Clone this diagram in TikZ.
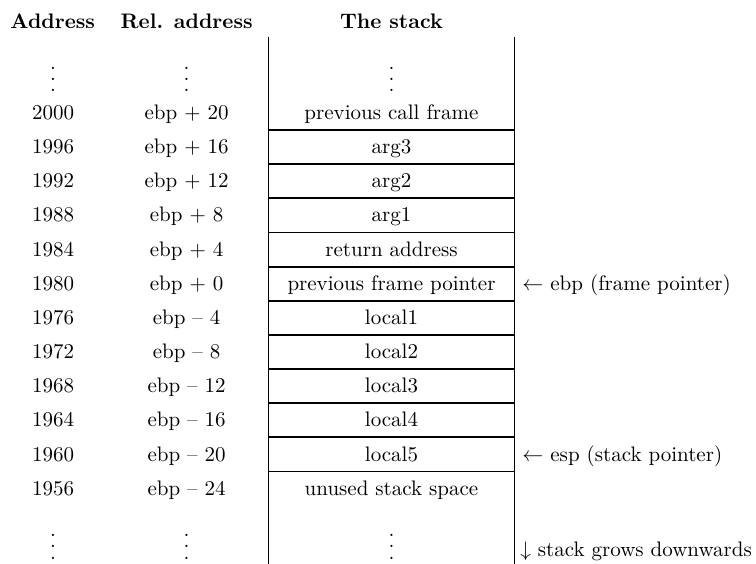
\documentclass[tikz,border=0pt]{standalone}
\newcommand{\myvdots}{\vbox{\baselineskip5.4pt\lineskiplimit0pt\hbox{.}\hbox{.}\hbox{.}}}
\begin{document}
\begin{tikzpicture}[x=0.47619pt,y=-0.47619pt,
  txt/.style={anchor=base,inner sep=0pt,font=\normalsize},
  hdr/.style={anchor=base,inner sep=0pt,font=\bfseries},
  note/.style={anchor=base west,inner sep=0pt},
  rule/.style={line width=0.9pt}]
\useasboundingbox (0,0) rectangle (756,564);
% headers
\node[hdr] (hA) at (52.7,28.5) {Address};
\node[hdr] (hR) at (186.6,28.5) {Rel. address};
\node[hdr] (hS) at (391.5,28.5) {The stack};
% top dots
\node[txt] (dA1) at (53,92) {\myvdots};
\node[txt] (dR1) at (186.6,92) {\myvdots};
\node[txt] (dS1) at (391.5,92) {\myvdots};
% rows
\foreach \k/\a/\r/\c in {
  0/2000/{ebp + 20}/{previous call frame},
  1/1996/{ebp + 16}/{arg3},
  2/1992/{ebp + 12}/{arg2},
  3/1988/{ebp + 8}/{arg1},
  4/1984/{ebp + 4}/{return address},
  5/1980/{ebp + 0}/{previous frame pointer},
  6/1976/{ebp -- 4}/{local1},
  7/1972/{ebp -- 8}/{local2},
  8/1968/{ebp -- 12}/{local3},
  9/1964/{ebp -- 16}/{local4},
  10/1960/{ebp -- 20}/{local5},
  11/1956/{ebp -- 24}/{unused stack space}} {
  \node[txt] (a\k) at (53,119.5+34.15*\k) {\a};
  \node[txt] (r\k) at (186.6,119.5+34.15*\k) {\r};
  \node[txt] (s\k) at (391.5,119.5+34.15*\k) {\c};
}
% bottom dots
\node[txt] (dA2) at (53,559) {\myvdots};
\node[txt] (dR2) at (186.6,559) {\myvdots};
\node[txt] (dS2) at (391.5,559) {\myvdots};
% stack borders
\coordinate (tl) at (268.5,37);
\coordinate (bl) at (268.5,564);
\coordinate (tr) at (514.5,37);
\coordinate (br) at (514.5,564);
\draw[rule] (tl) -- (bl);
\draw[rule] (tr) -- (br);
\foreach \k in {0,...,10} {
  \coordinate (hl\k) at (268.5,130+34.15*\k);
  \coordinate (hr\k) at (514.5,130+34.15*\k);
  \draw[rule] (hl\k) -- (hr\k);
}
% notes
\node[note] (ebp) at (522,119.5+34.15*5) {$\leftarrow$ ebp (frame pointer)};
\node[note] (esp) at (522,119.5+34.15*10) {$\leftarrow$ esp (stack pointer)};
\node[note] (grow) at (520,556) {$\downarrow$ stack grows downwards};
\end{tikzpicture}
\end{document}
